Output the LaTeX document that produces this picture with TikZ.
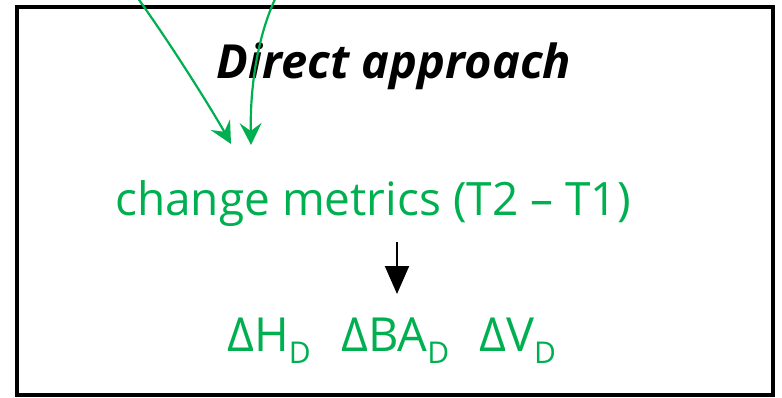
\documentclass[tikz,border=0pt]{standalone}
\usepackage{fontspec}
\setmainfont{Open Sans}
\usetikzlibrary{arrows.meta}
\definecolor{pptgreen}{HTML}{00B050}
\tikzset{
  frame/.style={draw=black, line width=4pt},
  greenarrow/.style={draw=pptgreen, line width=2.2pt, -{Stealth[length=22pt,width=22pt,inset=8pt]}},
  blackarrow/.style={draw=black, line width=2pt, -{Triangle[length=28pt,width=24pt]}},
  titletext/.style={font=\fontsize{47}{47}\selectfont\bfseries\itshape, text=black, inner sep=0pt, anchor=base},
  greentext/.style={font=\fontsize{46}{46}\selectfont, text=pptgreen, inner sep=0pt, anchor=base},
  deltatext/.style={font=\fontsize{47}{47}\selectfont, text=pptgreen, inner sep=0pt, anchor=base west}
}
\newcommand{\subD}{{\fontsize{30}{30}\selectfont\raisebox{-12pt}{D}}}
\begin{document}
\begin{tikzpicture}[x=1pt,y=-1pt]
\useasboundingbox (0,0) rectangle (782,397);
\draw[frame] (17,7) rectangle (773,395);
\node[titletext] (title) at (394,78) {Direct approach};
\node[greentext] (cm) at (373,215) {change metrics (T2 – T1)};
\node[deltatext] (dh) at (227,351) {ΔH\subD};
\node[deltatext] (dba) at (341,351) {ΔBA\subD};
\node[deltatext] (dv) at (479,351) {ΔV\subD};
\coordinate (s1) at (137,-3);
\coordinate (t1) at (231,144);
\coordinate (s2) at (276,-3);
\coordinate (t2) at (251,145);
\draw[greenarrow] (s1) .. controls (175,50) and (215,115) .. (t1);
\draw[greenarrow] (s2) .. controls (258,35) and (250,85) .. (t2);
\coordinate (b1) at (397,242);
\coordinate (b2) at (397,294);
\draw[blackarrow] (b1) -- (b2);
\end{tikzpicture}
\end{document}
